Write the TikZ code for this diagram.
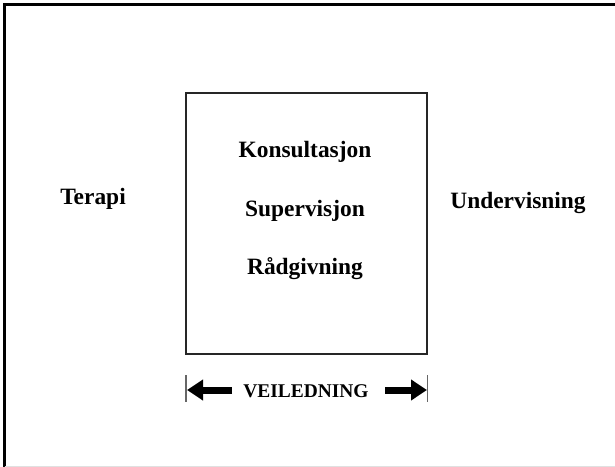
\documentclass[tikz,border=0pt]{standalone}
\usepackage{fontspec}
\setmainfont{Liberation Serif}
\usetikzlibrary{arrows.meta}

\tikzset{
	lbl/.style={anchor=base, font=\fontsize{23.5}{27}\selectfont\bfseries, inner sep=0pt},
	fatarrow/.style={line width=7bp, -{Triangle[length=16bp,width=20bp]}},
	tick/.style={line width=1.3bp, black!60}
}

\begin{document}
\begin{tikzpicture}[x=1bp, y=-1bp]
	\useasboundingbox (0,0) rectangle (615,467);
	% frame
	\draw[line width=2.2bp] (4.5,467) |- (615,4.5);
	\draw[black!12, line width=1bp] (4.5,466) -- (615,466);
	% box
	\node[draw=black!85, line width=1.1bp, minimum width=241bp, minimum height=261bp, inner sep=0pt] (box) at (306.5,223.5) {};
	\node[lbl] (kons) at (305,158) {Konsultasjon};
	\node[lbl] (sup) at (305,216.5) {Supervisjon};
	\node[lbl] (rad) at (305,275) {Rådgivning};
	\node[lbl] (ter) at (93,205) {Terapi};
	\node[lbl] (und) at (518,209) {Undervisning};
	% veiledning
	\node[lbl, font=\fontsize{19.5}{23}\selectfont\bfseries] (veil) at (306,397.5) {VEILEDNING};
	\coordinate (lt) at (186,375);
	\coordinate (lb) at (186,402);
	\coordinate (rt) at (427.5,375);
	\coordinate (rb) at (427.5,402);
	\draw[tick] (lt) -- (lb);
	\draw[tick] (rt) -- (rb);
	\coordinate (la) at (232,390);
	\coordinate (ra) at (385,390);
	\draw[fatarrow] (la) -- (187,390);
	\draw[fatarrow] (ra) -- (427,390);
\end{tikzpicture}
\end{document}
